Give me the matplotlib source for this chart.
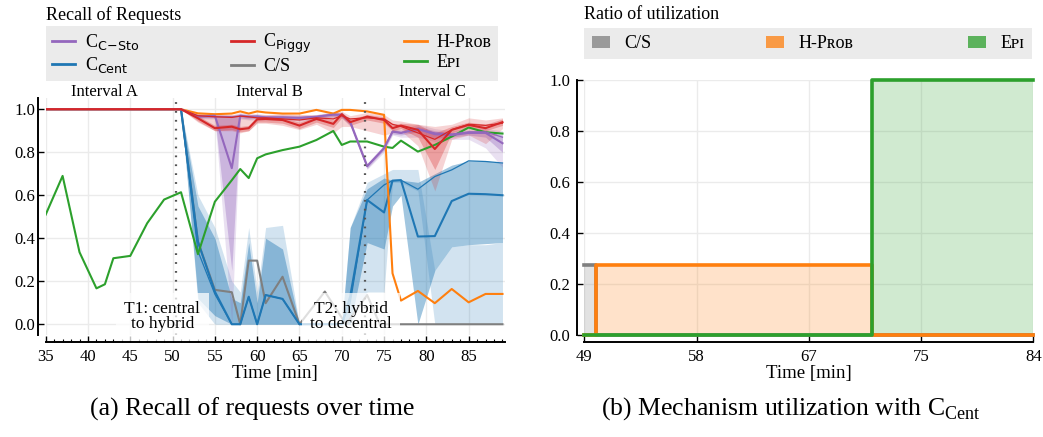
import matplotlib

matplotlib.use("Agg")
import matplotlib.pyplot as plt
import numpy as np
from matplotlib.lines import Line2D
from matplotlib.patches import Patch
from matplotlib.ticker import MultipleLocator

PURPLE, BLUE, RED, GRAY, ORANGE, GREEN = "#9467bd", "#1f77b4", "#d62728", "#7f7f7f", "#ff7f0e", "#2ca02c"
GRID, LEGBG = "#ebebeb", "#ebebeb"
SERIF = ["Liberation Serif", "DejaVu Serif", "DejaVu Sans"]

plt.rcParams["font.family"] = SERIF
plt.rcParams["mathtext.fontset"] = "custom"
plt.rcParams["mathtext.rm"] = "Liberation Serif"
plt.rcParams["mathtext.sf"] = "DejaVu Sans"

# ---- (a) recall of requests over time ----
T = [35, 37, 39, 41, 42, 43, 45, 47, 49, 51, 53, 55, 57, 58, 59, 60, 61, 63, 65, 67, 69,
     70, 71, 73, 75, 76, 77, 79, 81, 83, 85, 87, 89]

EPI = [.51, .69, .335, .167, .186, .307, .318, .47, .58, .614, .326, .57, .67, .722, .68, .772,
       .79, .81, .826, .857, .899, .834, .85, .85, .826, .82, .854, .803, .834, .873, .915, .893, .887]
HPROB = [1, 1, 1, 1, 1, 1, 1, 1, 1, 1, .981, .977, .98, .99, .98, .99, .985, .98, .98, .997,
         .98, .997, .997, .99, .974, .237, .11, .155, .098, .164, .102, .141, .141]

CSTO = [1, 1, 1, 1, 1, 1, 1, 1, 1, 1, .966, .97, .726, .97, .965, .966, .962, .962, .96, .965,
        .975, .974, .94, .735, .819, .896, .89, .908, .884, .88, .89, .89, .842]
CSTO_THIN = [1, 1, 1, 1, 1, 1, 1, 1, 1, 1, .966, .965, .965, .968, .965, .966, .962, .962, .96,
             .965, .975, .974, .94, .735, .819, .896, .89, .908, .89, .885, .895, .895, .87]
CSTO_LO = [1, 1, 1, 1, 1, 1, 1, 1, 1, 1, .96, .96, .25, .96, .955, .958, .955, .955, .952, .958,
           .965, .965, .93, .725, .81, .885, .88, .895, .865, .87, .88, .87, .80]
CSTO_HI = [1, 1, 1, 1, 1, 1, 1, 1, 1, 1, .975, .975, .97, .98, .975, .975, .97, .97, .968, .972,
           .985, .982, .95, .745, .83, .905, .90, .92, .90, .89, .90, .90, .88]
CSTO_LO2 = [1, 1, 1, 1, 1, 1, 1, 1, 1, 1, .955, .955, 0.0, .955, .95, .95, .95, .95, .945, .95,
            .96, .96, .92, .72, .80, .88, .87, .87, .85, .86, .86, .82, .73]
CSTO_HI2 = [1, 1, 1, 1, 1, 1, 1, 1, 1, 1, .98, .98, .975, .985, .98, .98, .975, .975, .972, .975,
            .99, .985, .955, .75, .835, .91, .905, .93, .91, .90, .91, .91, .90]

PIGGY = [1, 1, 1, 1, 1, 1, 1, 1, 1, 1, .958, .912, .919, .907, .912, .953, .955, .95, .924,
         .955, .932, .977, .94, .966, .95, .912, .924, .904, .815, .904, .927, .912, .94]
PIGGY_THIN = [1, 1, 1, 1, 1, 1, 1, 1, 1, 1, .97, .965, .962, .968, .965, .96, .96, .955, .95,
              .96, .955, .97, .955, .96, .955, .93, .92, .89, .86, .905, .93, .925, .935]
PIGGY_LO = [1, 1, 1, 1, 1, 1, 1, 1, 1, 1, .945, .90, .905, .895, .90, .94, .94, .935, .91, .94,
            .915, .96, .925, .95, .935, .90, .91, .87, .72, .89, .915, .90, .925]
PIGGY_HI = [1, 1, 1, 1, 1, 1, 1, 1, 1, 1, .97, .925, .93, .92, .925, .965, .965, .96, .94, .965,
            .95, .985, .955, .975, .965, .93, .935, .93, .89, .92, .94, .93, .955]
PIGGY_LO2 = [1, 1, 1, 1, 1, 1, 1, 1, 1, 1, .94, .90, .90, .89, .90, .935, .935, .925, .905, .93,
             .89, .92, .92, .90, .88, .89, .90, .83, .62, .86, .88, .84, .91]
PIGGY_HI2 = [1, 1, 1, 1, 1, 1, 1, 1, 1, 1, .98, .975, .975, .975, .975, .975, .975, .98, .975,
             .975, .985, .99, .97, .985, .975, .95, .945, .93, .92, .93, .96, .95, .96]

CENT = [1, 1, 1, 1, 1, 1, 1, 1, 1, 1, .384, .152, 0, 0, .128, 0, .136, .118, 0, 0, 0, 0, .13,
        .578, .52, .668, .67, .408, .41, .573, .607, .605, .60]
CENT_THIN = [1, 1, 1, 1, 1, 1, 1, 1, 1, 1, .34, .14, 0, 0, .128, 0, .136, .118, 0, 0, 0, 0, .10,
             .578, .648, .668, .67, .628, .687, .718, .76, .757, .75]
CENT_LO = [1, 1, 1, 1, 1, 1, 1, 1, 1, 1, .12, .04, 0, 0, 0, 0, 0, 0, 0, 0, 0, 0, 0, .38, .35,
           .55, .60, 0, .25, .36, .37, .375, .38]
CENT_HI = [1, 1, 1, 1, 1, 1, 1, 1, 1, 1, .55, .40, .12, .10, .38, .10, .40, .35, 0, 0, 0, 0, .45,
           .63, .68, .67, .67, .66, .70, .74, .76, .76, .75]
CENT_LO2 = [1, 1, 1, 1, 1, 1, 1, 1, 1, 1, .10, 0, 0, 0, 0, 0, 0, 0, 0, 0, 0, 0, 0, .15, .15,
            .66, .66, .62, 0, 0, 0, 0, 0]
CENT_HI2 = [1, 1, 1, 1, 1, 1, 1, 1, 1, 1, .60, .45, .20, .15, .45, .15, .45, .46, 0, 0, 0, 0, .45,
            .66, .70, .72, .72, .72, .25, .36, .37, .37, .38]

CS_T = [35, 51, 53, 55, 57, 58, 59, 60, 61, 63, 65, 68, 70.5, 73, 74.5, 89]
CS = [1, 1, .384, .16, .149, 0, .296, .296, .098, .221, 0, .152, 0, .136, 0, 0]

T1, T2 = 50.45, 72.8
INTERVALS = [("Interval A", 42.0), ("Interval B", 61.5), ("Interval C", 80.75)]

# ---- (b) ratio of utilization with C_Cent ----
UT = [49, 49.9, 71.45, 84]
U_CS = [0.275, 0, 0, 0]
U_HPROB = [0, 0.275, 0, 0]
U_EPI = [0, 0, 1, 1]
U_TICKS = ["49", "58", "67", "75", "84"]

L_CSTO = r"C$_{\mathsf{C\!-\!Sto}}$"
L_CENT = r"C$_{\mathsf{Cent}}$"
L_PIGGY = r"C$_{\mathsf{Piggy}}$"
L_HPROB = "H-P\u0280\u1d0f\u0299"
L_EPI = "E\u1d18\u026a"


def _style(ax):
    ax.spines[["top", "right"]].set_visible(False)
    for s in ("left", "bottom"):
        ax.spines[s].set_position(("outward", 5.3))
        ax.spines[s].set_linewidth(1.4)
        ax.spines[s].set_zorder(5)
    ax.grid(True, color=GRID, linewidth=1)
    ax.set_axisbelow(True)
    ax.tick_params(direction="in", labelsize=12, width=1, length=4)


fig = plt.figure(figsize=(10.43, 4.37), dpi=100)
ax = fig.add_axes([0.0438, 0.2334, 0.4404, 0.5412])
ax2 = fig.add_axes([0.5602, 0.2334, 0.4305, 0.5835])

# left panel
_style(ax)
for lo, hi, c, a in [(CENT_LO2, CENT_HI2, BLUE, 0.2), (CENT_LO, CENT_HI, BLUE, 0.42),
                     (CSTO_LO2, CSTO_HI2, PURPLE, 0.2), (CSTO_LO, CSTO_HI, PURPLE, 0.35),
                     (PIGGY_LO2, PIGGY_HI2, RED, 0.2), (PIGGY_LO, PIGGY_HI, RED, 0.3)]:
    ax.fill_between(T, lo, hi, color=c, alpha=a, linewidth=0)

ax.plot(CS_T, CS, color=GRAY, lw=1.5)
ax.plot(T, CENT_THIN, color=BLUE, lw=0.9)
ax.plot(T, CENT, color=BLUE, lw=1.5)
ax.plot(T, EPI, color=GREEN, lw=1.5)
ax.plot(T, HPROB, color=ORANGE, lw=1.5)
ax.plot(T, CSTO_THIN, color=PURPLE, lw=0.9)
ax.plot(T, CSTO, color=PURPLE, lw=1.5)
ax.plot(T, PIGGY_THIN, color=RED, lw=0.9)
ax.plot(T, PIGGY, color=RED, lw=1.5)

for x in (T1, T2):
    ax.axvline(x, color="#555555", lw=1.6, ls=(0, (0.8, 3.2)), zorder=2.6)
box = dict(facecolor="white", edgecolor="none", alpha=0.75, pad=6)
ax.text(48.8, 0.035, "T1: central\nto hybrid", ha="center", va="center", fontsize=12.5,
        linespacing=0.95, bbox=box, zorder=4)
ax.text(71.1, 0.035, "T2: hybrid\nto decentral", ha="center", va="center", fontsize=12.5,
        linespacing=0.95, bbox=box, zorder=4)
for name, x in INTERVALS:
    ax.text(x, 1.082, name, ha="center", va="center", fontsize=12)

ax.set_xlim(35, 89.3)
ax.set_ylim(-0.05, 1.05)
ax.set_xticks(range(35, 90, 5))
ax.xaxis.set_minor_locator(MultipleLocator(1))
ax.tick_params(which="minor", direction="in", length=2.5, width=0.8)
ax.set_yticks([0, 0.2, 0.4, 0.6, 0.8, 1.0])
ax.tick_params(axis="y", pad=2)
ax.tick_params(axis="x", pad=5)
ax.set_xlabel("Time [min]", fontsize=13.5, labelpad=0)

handles = [Line2D([], [], color=c, lw=2) for c in (PURPLE, BLUE, RED, GRAY, ORANGE, GREEN)]
labels = [L_CSTO, L_CENT, L_PIGGY, "C/S", L_HPROB, L_EPI]
ax.legend(handles, labels, ncol=3, mode="expand", loc="upper left",
          bbox_to_anchor=(0, 1.307, 0.984, 0), facecolor=LEGBG, edgecolor="none",
          framealpha=1, fancybox=False, handlelength=1.3, fontsize=13, borderaxespad=0,
          handletextpad=0.5, labelspacing=0.15, borderpad=0.35)
ax.text(0, 1.353, "Recall of Requests", transform=ax.transAxes, ha="left", va="center",
        fontsize=13)

# right panel
_style(ax2)
for vals, c in [(U_CS, GRAY), (U_HPROB, ORANGE), (U_EPI, GREEN)]:
    ax2.fill_between(UT, vals, step="post", color=c, alpha=0.22, linewidth=0)
    ax2.step(UT, vals, where="post", color=c, lw=2.6, clip_on=False)
ax2.set_xlim(49, 84)
ax2.set_ylim(0, 1)
ax2.set_xticks(np.linspace(49, 84, 5), U_TICKS)
ax2.set_yticks([0, 0.2, 0.4, 0.6, 0.8, 1.0])
ax2.tick_params(axis="y", pad=5)
ax2.tick_params(axis="x", pad=5, length=5)
ax2.set_xlabel("Time [min]", fontsize=13.5, labelpad=0)

phandles = [Patch(facecolor=c, alpha=0.75, edgecolor="none") for c in (GRAY, ORANGE, GREEN)]
ax2.legend(phandles, ["C/S", L_HPROB, L_EPI], ncol=3, mode="expand", loc="upper left",
           bbox_to_anchor=(0, 1.204, 0.9965, 0), facecolor=LEGBG, edgecolor="none",
           framealpha=1, fancybox=False, handlelength=1.0, fontsize=13, borderaxespad=0,
           handletextpad=0.8, borderpad=0.4)
ax2.text(0, 1.255, "Ratio of utilization", transform=ax2.transAxes, ha="left", va="center",
         fontsize=13)

fig.text(252 / 1043, 1 - 409 / 437, "(a) Recall of requests over time", ha="center",
         va="center", fontsize=18.5)
fig.text(791 / 1043, 1 - 409 / 437, r"(b) Mechanism utilization with C$_{\mathrm{Cent}}$",
         ha="center", va="center", fontsize=18.5)

fig.savefig("out.png", dpi=100)
